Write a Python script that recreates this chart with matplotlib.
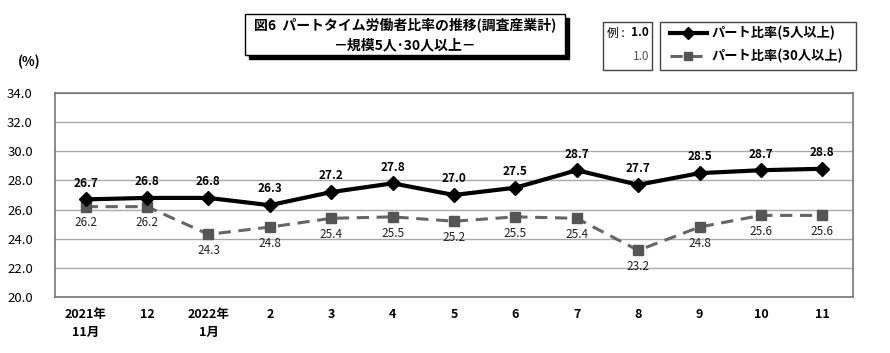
import matplotlib
matplotlib.use("Agg")
import matplotlib.pyplot as plt
from matplotlib.patches import Rectangle
from matplotlib.lines import Line2D

plt.rcParams['font.family'] = ['Noto Sans CJK JP', 'DejaVu Sans']

# data
months = ["2021年\n11月", "12", "2022年\n1月", "2", "3", "4", "5", "6", "7", "8", "9", "10", "11"]
part_5 = [26.7, 26.8, 26.8, 26.3, 27.2, 27.8, 27.0, 27.5, 28.7, 27.7, 28.5, 28.7, 28.8]
part_30 = [26.2, 26.2, 24.3, 24.8, 25.4, 25.5, 25.2, 25.5, 25.4, 23.2, 24.8, 25.6, 25.6]
yticks = [20.0, 22.0, 24.0, 26.0, 28.0, 30.0, 32.0, 34.0]

W, H = 890, 353
fig = plt.figure(figsize=(W / 100, H / 100), dpi=100)

def fx(px):
    return px / W

def fy(py):
    return 1 - py / H

ax = fig.add_axes([fx(55), fy(297), fx(853) - fx(55), fy(93) - fy(297)])
x = list(range(len(months)))

ax.plot(x, part_30, color='#666666', lw=2.2, ls=(0, (4, 2.5)), marker='s', ms=6.5,
        mfc='#555555', mec='#555555', zorder=3)
ax.plot(x, part_5, color='black', lw=3, marker='D', ms=7, mfc='black', mec='black', zorder=4)

for i, v in enumerate(part_5):
    ax.annotate(f"{v:.1f}", (i, v), xytext=(0, 7), textcoords='offset points',
                ha='center', va='bottom', fontsize=8.5, fontweight='bold')
for i, v in enumerate(part_30):
    ax.annotate(f"{v:.1f}", (i, v), xytext=(0, -7), textcoords='offset points',
                ha='center', va='top', fontsize=8.5, color='#222222')

ax.set_xlim(-0.5, len(months) - 0.5)
ax.set_ylim(20, 34)
ax.set_yticks(yticks)
ax.set_yticklabels([f"{t:.1f}" for t in yticks], fontsize=9.5)
ax.set_xticks(x)
ax.set_xticklabels(months, fontsize=9, fontweight='bold', linespacing=1.5, va='top')
ax.tick_params(axis='both', length=0, pad=8)
ax.tick_params(axis='y', pad=16)
ax.grid(axis='y', color='#aaaaaa', lw=1)
for s in ax.spines.values():
    s.set_color('#777777')
    s.set_linewidth(1.2)

fig.text(fx(18), fy(62), "(%)", fontsize=9.5, fontweight='bold', ha='left', va='center')

# title box with shadow
fig.patches.append(Rectangle((fx(249), fy(59)), fx(320), fy(14) - fy(55),
                             transform=fig.transFigure, facecolor='black', edgecolor='black', zorder=1))
fig.patches.append(Rectangle((fx(245), fy(55)), fx(320), fy(14) - fy(55),
                             transform=fig.transFigure, facecolor='white', edgecolor='black', lw=1, zorder=2))
fig.text(fx(405), fy(25), "図6  パートタイム労働者比率の推移(調査産業計)", fontsize=10,
         fontweight='bold', ha='center', va='center', zorder=3)
fig.text(fx(405), fy(45), "－規模5人･30人以上－", fontsize=10,
         fontweight='bold', ha='center', va='center', zorder=3)

# example box
fig.patches.append(Rectangle((fx(603), fy(70)), fx(49), fy(22) - fy(70),
                             transform=fig.transFigure, facecolor='white', edgecolor='#444444', lw=1))
fig.text(fx(607), fy(33), "例 :", fontsize=8.5, ha='left', va='center')
fig.text(fx(649), fy(33), "1.0", fontsize=8.5, fontweight='bold', ha='right', va='center')
fig.text(fx(649), fy(56), "1.0", fontsize=8.5, color='#555555', ha='right', va='center')

# legend box
fig.patches.append(Rectangle((fx(660), fy(70)), fx(196), fy(22) - fy(70),
                             transform=fig.transFigure, facecolor='white', edgecolor='#444444', lw=1))
fig.lines.append(Line2D([fx(670), fx(707)], [fy(33), fy(33)], transform=fig.transFigure,
                        color='black', lw=3))
fig.lines.append(Line2D([fx(688)], [fy(33)], transform=fig.transFigure,
                        color='black', marker='D', ms=6, ls='none'))
fig.lines.append(Line2D([fx(670), fx(707)], [fy(56), fy(56)], transform=fig.transFigure,
                        color='#666666', lw=2.2, ls=(0, (4, 2.5))))
fig.lines.append(Line2D([fx(688)], [fy(56)], transform=fig.transFigure,
                        color='#555555', marker='s', ms=6, ls='none'))
fig.text(fx(712), fy(33), "パート比率(5人以上)", fontsize=9.5, fontweight='bold', ha='left', va='center')
fig.text(fx(712), fy(56), "パート比率(30人以上)", fontsize=9.5, fontweight='bold', ha='left', va='center')

fig.savefig("out.png", dpi=100)
